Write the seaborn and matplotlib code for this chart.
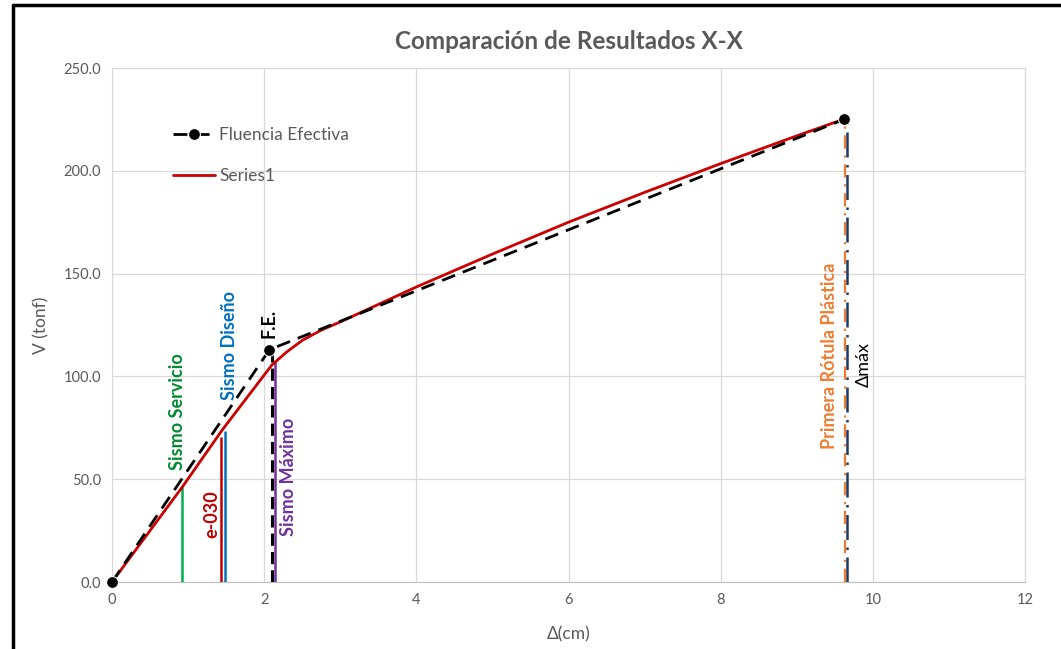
import numpy as np
import pandas as pd
import matplotlib
matplotlib.use("Agg")
import matplotlib.pyplot as plt
import seaborn as sns
from matplotlib.lines import Line2D

# curva bilineal (fluencia efectiva)
fe_x = [0.0, 2.07, 9.62]
fe_v = [0.0, 113.0, 225.0]

# curva de capacidad (Series1)
cap_x = [0.0, 0.92, 1.45, 2.10, 2.30, 2.50, 2.75, 3.00, 3.50, 4.00, 5.00, 6.00, 7.00, 8.00, 9.00, 9.61]
cap_v = [0.0, 46.0, 74.0, 105.5, 112.0, 117.5, 122.5, 126.5, 135.0, 143.5, 159.5, 175.0, 189.5, 203.5, 217.0, 225.0]

# desplazamientos de control: (x, V tope)
marcas = {
    "Sismo Servicio": (0.92, 46.0),
    "e-030": (1.43, 70.5),
    "Sismo Diseño": (1.485, 73.5),
    "F.E.": (2.10, 113.0),
    "Sismo Máximo": (2.14, 107.0),
    "Primera Rótula Plástica": (9.63, 225.0),
    "Δmáx": (9.66, 225.0),
}

x_ticks = [0, 2, 4, 6, 8, 10, 12]
y_ticks = [0, 50, 100, 150, 200, 250]

GRIS = "#595959"

sns.set_style("white")
plt.rcParams["font.family"] = ["Lato", "DejaVu Sans"]

fig = plt.figure(figsize=(10.61, 6.49), dpi=100)
ax = fig.add_axes([112 / 1061, 1 - 582 / 649, 913 / 1061, 514 / 649])

ax.set_xlim(0, 12)
ax.set_ylim(0, 250)
ax.set_xticks(x_ticks)
ax.set_yticks(y_ticks)
ax.set_yticklabels([f"{v:.1f}" for v in y_ticks])
ax.grid(True, color="#d9d9d9", lw=0.9)
ax.set_axisbelow(True)
for s in ["top", "right", "left"]:
    ax.spines[s].set_color("#d9d9d9")
ax.spines["bottom"].set_color("#bfbfbf")
ax.tick_params(colors=GRIS, labelsize=10.5, length=0, pad=8)

# lineas verticales
def vline(key, color, ls, lw=1.8):
    x, top = marcas[key]
    ax.vlines(x, 0, top, colors=color, linestyles=ls, lw=lw, zorder=3)

vline("Sismo Servicio", "#00b050", "-")
vline("e-030", "#c00000", "-")
vline("Sismo Diseño", "#0070c0", "-")
vline("Sismo Máximo", "#7030a0", "-")
vline("F.E.", "black", (0, (4, 2)), lw=2.2)
vline("Primera Rótula Plástica", "#ed7d31", (0, (6, 3, 1, 3)), lw=1.6)
vline("Δmáx", "#1f3864", (0, (10, 3, 1, 3)), lw=1.8)

df_fe = pd.DataFrame({"x": fe_x, "V": fe_v})
df_cap = pd.DataFrame({"x": cap_x, "V": cap_v})

sns.lineplot(data=df_cap, x="x", y="V", ax=ax, color="#cc0000", lw=2.0,
             label="Series1", sort=False, zorder=4)
sns.lineplot(data=df_fe, x="x", y="V", ax=ax, color="black", lw=2.0,
             linestyle=(0, (5, 3)), marker="o", markersize=8.5,
             label="Fluencia Efectiva", sort=False, zorder=5, clip_on=False)

# etiquetas de texto
txt = dict(rotation=90, ha="center", va="center", fontsize=13, fontweight="bold")
ax.text(0.86, 83, "Sismo Servicio", color="#008a2e", **txt)
ax.text(1.31, 33, "e-030", color="#c00000", **txt)
ax.text(1.54, 115, "Sismo Diseño", color="#0070c0", **txt)
ax.text(2.07, 126, "F.E.", color="black", **txt)
ax.text(2.32, 51, "Sismo Máximo", color="#7030a0", **txt)
ax.text(9.43, 110, "Primera Rótula Plástica", color="#ed7d31", **txt)
ax.text(9.88, 106, "Δmáx", color="black", rotation=90, ha="center",
        va="center", fontsize=13)

handles, labels = ax.get_legend_handles_labels()
order = [labels.index("Fluencia Efectiva"), labels.index("Series1")]
ax.legend([handles[i] for i in order], [labels[i] for i in order],
          loc="upper left", bbox_to_anchor=(0.050, 0.915), frameon=False,
          fontsize=12.5, labelcolor=GRIS, handlelength=2.4, labelspacing=1.45,
          handletextpad=0.25)

ax.set_title("Comparación de Resultados X-X", color=GRIS, fontsize=17.5,
             fontweight="bold", pad=14)
ax.set_xlabel("Δ(cm)", color=GRIS, fontsize=12.5, labelpad=14)
ax.set_ylabel("V (tonf)", color=GRIS, fontsize=12.5, labelpad=10)

# marco de la captura
fig.add_artist(Line2D([13 / 1061, 13 / 1061], [0, 1 - 5 / 649], color="black", lw=2.5))
fig.add_artist(Line2D([13 / 1061, 1], [1 - 5 / 649, 1 - 5 / 649], color="black", lw=2.5))

fig.savefig("out.png", dpi=100)
